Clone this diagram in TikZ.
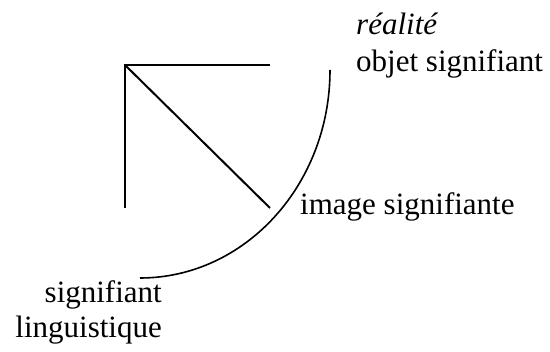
\documentclass[tikz,border=0pt]{standalone}
\usepackage{fontspec}
\setmainfont{Liberation Serif}
\begin{document}
\begin{tikzpicture}[x=1pt,y=-1pt,
  lbl/.style={inner sep=0pt,font=\fontsize{31}{36}\selectfont},
  ln/.style={line width=2pt}]
\useasboundingbox (0,0) rectangle (550,352);
\coordinate (c) at (125,65);
\coordinate (h) at (270,65);
\coordinate (v) at (125,208);
\coordinate (d) at (270,208);
\coordinate (at) at (330,70);
\draw[ln] (h) -- (c) -- (v);
\draw[ln] (c) -- (d);
\draw[line width=1.6pt] (at) arc[start angle=0,end angle=90,x radius=190,y radius=208];
\node[lbl,anchor=base west] (real) at (356,35) {\itshape réalité};
\node[lbl,anchor=base west] (obj) at (356,72) {objet signifiant};
\node[lbl,anchor=base west] (img) at (300,215) {image signifiante};
\node[lbl,anchor=base east] (sig) at (162,303) {signifiant};
\node[lbl,anchor=base east] (ling) at (162,338) {linguistique};
\end{tikzpicture}
\end{document}
